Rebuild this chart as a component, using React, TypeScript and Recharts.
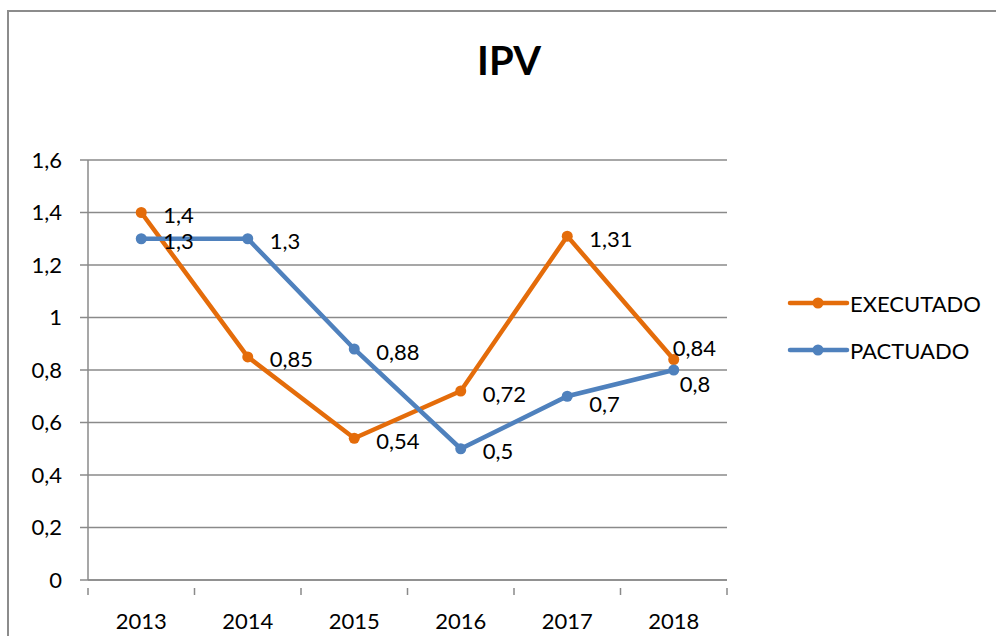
import React from 'react';
import { LineChart, Line, XAxis, YAxis, CartesianGrid, Legend, LabelList } from 'recharts';

const years = ['2013', '2014', '2015', '2016', '2017', '2018'];
const executado = [1.4, 0.85, 0.54, 0.72, 1.31, 0.84];
const pactuado = [1.3, 1.3, 0.88, 0.5, 0.7, 0.8];
const yTicks = [0, 0.2, 0.4, 0.6, 0.8, 1, 1.2, 1.4, 1.6];
const title = 'IPV';
const seriesNames = ['EXECUTADO', 'PACTUADO'];
const seriesColors = ['#E46C0A', '#4F81BD'];

const data = years.map((y, i) => ({ year: y, ex: executado[i], pa: pactuado[i] }));

const FONT = 'Lato, "Open Sans", sans-serif';
const GRID = '#8a8a8a';
const fmt = (v: number) => String(v).replace('.', ',');

const XTick = (props: any) => {
  const { x, y, payload, index, visibleTicksCount } = props;
  const half = payload && payload.offset ? payload.offset : 639 / 12;
  const last = index === (visibleTicksCount ?? years.length) - 1;
  return (
    <g>
      <line x1={x - half} x2={x - half} y1={y} y2={y + 7} stroke={GRID} strokeWidth={1.5} />
      {last && <line x1={x + half} x2={x + half} y1={y} y2={y + 7} stroke={GRID} strokeWidth={1.5} />}
      <text x={x} y={y + 41} textAnchor="middle" fontSize={22} fontFamily={FONT} fill="#000">
        {payload.value}
      </text>
    </g>
  );
};

const makeLabel = (series: 'ex' | 'pa') => (props: any) => {
  const { x, y, value, index } = props;
  let dx = 22;
  let dy = 2;
  if (series === 'ex' && index === 5) { dx = -1; dy = -12; }
  if (series === 'pa' && index === 5) { dx = 6; dy = 13; }
  if (series === 'pa' && index === 4) { dy = 7; }
  return (
    <text x={x + dx} y={y + dy} textAnchor="start" dominantBaseline="central" fontSize={22} fontFamily={FONT} fill="#000">
      {fmt(value)}
    </text>
  );
};

const renderLegend = () => (
  <svg width={210} height={90}>
    {seriesNames.map((n, i) => {
      const cy = 18 + i * 47;
      return (
        <g key={n}>
          <line x1={5} x2={62} y1={cy} y2={cy} stroke={seriesColors[i]} strokeWidth={4.5} strokeLinecap="round" />
          <circle cx={33} cy={cy} r={5.5} fill={seriesColors[i]} />
          <text x={65} y={cy} dominantBaseline="central" fontSize={22} fontFamily={FONT} fill="#000">{n}</text>
        </g>
      );
    })}
  </svg>
);

export default function App() {
  return (
    <div style={{ position: 'absolute', left: 0, top: 0, width: 996, height: 636, overflow: 'hidden', background: '#fff', fontFamily: FONT }}>
      <div style={{ position: 'absolute', left: 7, top: 10, width: 1100, height: 800, border: '2px solid #8c8c8c' }} />
      <svg style={{ position: 'absolute', left: 0, top: 0 }} width={996} height={100}>
        <text x={509} y={75} textAnchor="middle" fontWeight="bold" fontSize={40} fontFamily={FONT} fill="#000">{title}</text>
      </svg>
      <div style={{ position: 'absolute', left: 0, top: 0 }}>
        <LineChart width={996} height={636} data={data} margin={{ top: 160, right: 269, bottom: 0, left: 0 }}>
          <CartesianGrid vertical={false} stroke={GRID} strokeWidth={1.5} />
          <XAxis dataKey="year" scale="band" height={56} interval={0} tickLine={false} axisLine={{ stroke: GRID, strokeWidth: 1.5 }} tick={<XTick />} />
          <YAxis
            width={88}
            domain={[0, 1.6]}
            ticks={yTicks}
            interval={0}
            tickSize={8}
            tickMargin={18}
            tickFormatter={fmt}
            axisLine={{ stroke: GRID, strokeWidth: 1.5 }}
            tickLine={{ stroke: GRID, strokeWidth: 1.5 }}
            tick={{ fontSize: 22, fontFamily: FONT, fill: '#000' }}
          />
          <Legend content={renderLegend} layout="vertical" align="center" verticalAlign="middle" wrapperStyle={{ left: 785, top: 285, width: 210, height: 90 }} />
          <Line name={seriesNames[0]} dataKey="ex" stroke={seriesColors[0]} strokeWidth={4.5} dot={{ r: 5.5, fill: seriesColors[0], stroke: seriesColors[0], strokeWidth: 0 }} activeDot={false} isAnimationActive={false}>
            <LabelList dataKey="ex" content={makeLabel('ex')} />
          </Line>
          <Line name={seriesNames[1]} dataKey="pa" stroke={seriesColors[1]} strokeWidth={4.5} dot={{ r: 5.5, fill: seriesColors[1], stroke: seriesColors[1], strokeWidth: 0 }} activeDot={false} isAnimationActive={false}>
            <LabelList dataKey="pa" content={makeLabel('pa')} />
          </Line>
        </LineChart>
      </div>
    </div>
  );
}
